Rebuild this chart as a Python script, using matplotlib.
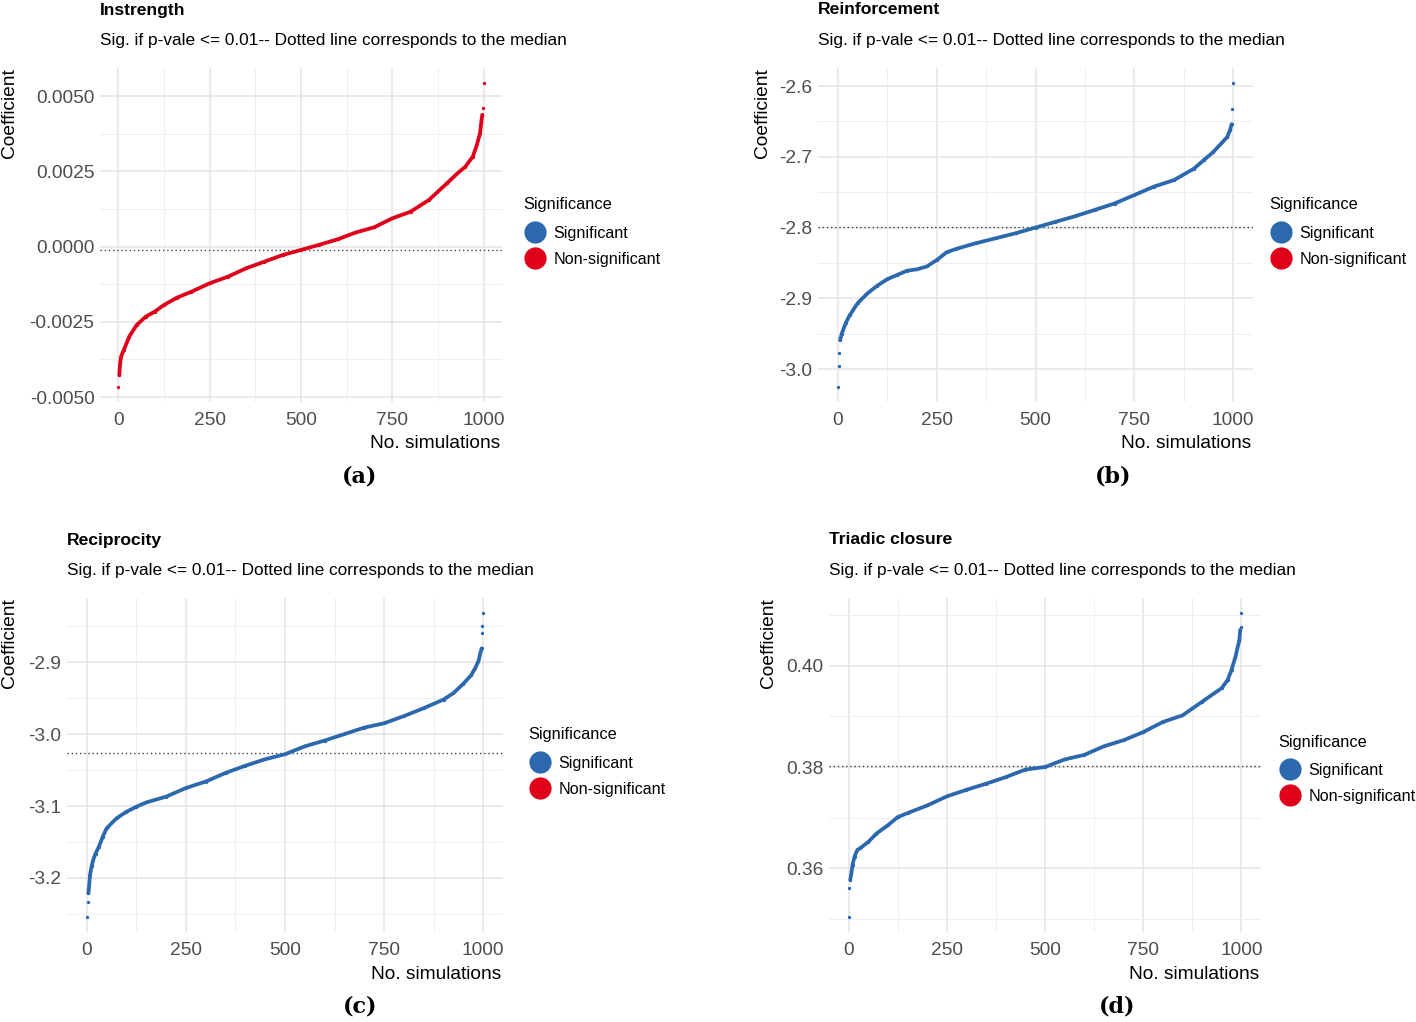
import numpy as np
import matplotlib

matplotlib.use("Agg")
import matplotlib.pyplot as plt
from matplotlib.lines import Line2D
from matplotlib.ticker import MultipleLocator

plt.rcParams["font.family"] = ["Liberation Sans", "DejaVu Sans"]

# sorted coefficients at selected simulation ranks
instrength_sim = [0, 3, 5, 8, 15, 30, 50, 75, 100, 125, 160, 200, 250, 300, 350, 400, 450,
                  500, 550, 600, 650, 700, 750, 800, 850, 900, 925, 950, 970, 980, 990,
                  993, 996, 997, 1000]
instrength_coef = [-0.00466, -0.00427, -0.00388, -0.00364, -0.00344, -0.00299, -0.00261,
                   -0.00233, -0.00216, -0.00194, -0.00170, -0.00150, -0.00122, -0.00100,
                   -0.00072, -0.00050, -0.00028, -0.00011, 0.00006, 0.00024, 0.00047,
                   0.00064, 0.00094, 0.00116, 0.00155, 0.00211, 0.00240, 0.00266, 0.00299,
                   0.00333, 0.00377, 0.00410, 0.00438, 0.00460, 0.00543]
instrength_median = -0.00013

reinf_sim = [0, 2, 4, 6, 10, 20, 30, 50, 75, 100, 125, 150, 175, 200, 225, 250, 275, 300,
             350, 400, 450, 500, 550, 600, 650, 700, 750, 800, 850, 900, 925, 950, 970,
             985, 992, 996, 998, 1000]
reinf_coef = [-3.025, -2.996, -2.977, -2.959, -2.950, -2.935, -2.924, -2.907, -2.893,
              -2.882, -2.873, -2.867, -2.861, -2.859, -2.855, -2.846, -2.835, -2.830,
              -2.822, -2.815, -2.808, -2.800, -2.792, -2.784, -2.775, -2.766, -2.754,
              -2.742, -2.733, -2.717, -2.705, -2.693, -2.681, -2.672, -2.662, -2.654,
              -2.632, -2.596]
reinf_median = -2.799

recip_sim = [0, 2, 4, 6, 8, 12, 16, 22, 30, 40, 50, 75, 100, 125, 150, 200, 250, 300, 350,
             400, 450, 500, 550, 600, 650, 700, 750, 800, 850, 900, 925, 950, 970, 980,
             988, 993, 996, 997, 998, 1000]
recip_coef = [-3.254, -3.233, -3.221, -3.210, -3.196, -3.184, -3.175, -3.166, -3.157,
              -3.143, -3.131, -3.117, -3.108, -3.101, -3.095, -3.087, -3.075, -3.066,
              -3.054, -3.044, -3.035, -3.028, -3.017, -3.009, -3.000, -2.991, -2.985,
              -2.975, -2.964, -2.952, -2.943, -2.930, -2.918, -2.908, -2.899, -2.887,
              -2.881, -2.860, -2.850, -2.832]
recip_median = -3.027

triad_sim = [0, 2, 4, 7, 10, 15, 22, 30, 50, 70, 100, 125, 150, 200, 250, 300, 350, 400,
             450, 500, 550, 600, 650, 700, 750, 800, 850, 900, 950, 965, 975, 985, 990,
             995, 997, 998, 1000]
triad_coef = [0.3504, 0.3560, 0.3577, 0.3590, 0.3607, 0.3623, 0.3636, 0.3640, 0.3652,
              0.3668, 0.3685, 0.3701, 0.3709, 0.3724, 0.3742, 0.3755, 0.3767, 0.3780,
              0.3795, 0.3800, 0.3815, 0.3824, 0.3841, 0.3853, 0.3869, 0.3889, 0.3902,
              0.3929, 0.3956, 0.3972, 0.3992, 0.4018, 0.4035, 0.4051, 0.4071, 0.4076,
              0.4104]
triad_median = 0.3803

titles = ["Instrength", "Reinforcement", "Reciprocity", "Triadic closure"]
subtitle = "Sig. if p-vale <= 0.01-- Dotted line corresponds to the median"
panel_tags = ["(a)", "(b)", "(c)", "(d)"]
sig_labels = ["Significant", "Non-significant"]
panel_sig = ["Non-significant", "Significant", "Significant", "Significant"]

BLUE = "#2B68AD"
RED = "#DF0019"
SIG_COL = {"Significant": BLUE, "Non-significant": RED}

W, H = 1416, 1022


def px(x, y):
    return x / W, 1 - y / H


def draw_panel(fig, box, sims, coefs, med, title, tag, sig, yfmt, ymaj, tails,
               ylab_x, legend_xy):
    left, top, right, bottom = box
    ax = fig.add_axes([left / W, 1 - bottom / H, (right - left) / W, (bottom - top) / H])
    col = SIG_COL[sig]
    lo, hi = tails
    n = len(sims)
    ax.plot(sims[lo:n - hi], coefs[lo:n - hi], "-", color=col, lw=2.7,
            solid_capstyle="round", solid_joinstyle="round", zorder=3)
    ax.plot(sims, coefs, "o", color=col, ms=2.4, mew=0, zorder=3)
    ax.axhline(med, color="#444444", lw=1.0, ls=(0, (1, 2)), zorder=2)

    ax.set_xlim(-50, 1050)
    rng = max(coefs) - min(coefs)
    ax.set_ylim(min(coefs) - 0.05 * rng, max(coefs) + 0.05 * rng)
    ax.xaxis.set_major_locator(MultipleLocator(250))
    ax.xaxis.set_minor_locator(MultipleLocator(125))
    ax.yaxis.set_major_locator(MultipleLocator(ymaj))
    ax.yaxis.set_minor_locator(MultipleLocator(ymaj / 2))
    ax.yaxis.set_major_formatter(lambda v, p: yfmt.format(v).replace("-0.0000", "0.0000"))
    ax.grid(True, which="major", color="#E4E4E4", lw=1.1)
    ax.grid(True, which="minor", color="#EFEFEF", lw=0.7)
    ax.set_axisbelow(True)
    for s in ax.spines.values():
        s.set_visible(False)
    ax.tick_params(which="both", length=0)
    ax.tick_params(axis="y", labelsize=13.8, pad=4, labelcolor="#4D4D4D")
    ax.tick_params(axis="x", labelsize=13.8, pad=7, labelcolor="#4D4D4D")

    fig.text(*px(left, top - 58), title, fontsize=12.6, fontweight="bold", va="center")
    fig.text(*px(left, top - 28), subtitle, fontsize=12.4, va="center")
    fig.text(*px(ylab_x, top), "Coefficient", fontsize=13.8,
             rotation=90, ha="center", va="top")
    fig.text(*px(right - 2, bottom + 42), "No. simulations", fontsize=13.8,
             ha="right", va="center")
    fig.text(*px(tag[1], bottom + 74), tag[0], fontsize=16, fontweight="bold",
             family="DejaVu Serif", ha="center", va="center")

    lx, ly = legend_xy
    fig.text(*px(lx, ly), "Significance", fontsize=11.8, va="center")
    handles = [Line2D([], [], ls="", marker="o", ms=16, mew=0, color=SIG_COL[l])
               for l in sig_labels]
    ax.legend(handles, sig_labels, loc="upper left",
              bbox_to_anchor=px(lx + 2, ly + 21), bbox_transform=fig.transFigure,
              frameon=False, fontsize=11.6, borderpad=0, borderaxespad=0,
              handletextpad=0.55, labelspacing=0.68, handlelength=1.2)
    return ax


fig = plt.figure(figsize=(W / 100, H / 100), dpi=100)

draw_panel(fig, (100, 68, 502, 402), instrength_sim, instrength_coef, instrength_median,
           titles[0], (panel_tags[0], 360), panel_sig[0], "{:.4f}", 0.0025, (1, 2),
           10, (523, 205))
draw_panel(fig, (818, 68, 1253, 402), reinf_sim, reinf_coef, reinf_median,
           titles[1], (panel_tags[1], 1113), panel_sig[1], "{:.1f}", 0.1, (3, 2),
           762, (1269, 205))
draw_panel(fig, (67, 598, 503, 932), recip_sim, recip_coef, recip_median,
           titles[2], (panel_tags[2], 360), panel_sig[2], "{:.1f}", 0.1, (2, 3),
           10, (528, 735))
draw_panel(fig, (829, 598, 1261, 932), triad_sim, triad_coef, triad_median,
           titles[3], (panel_tags[3], 1117), panel_sig[3], "{:.2f}", 0.02, (2, 2),
           768, (1278, 742))

fig.savefig("out.png", dpi=100, facecolor="white")
